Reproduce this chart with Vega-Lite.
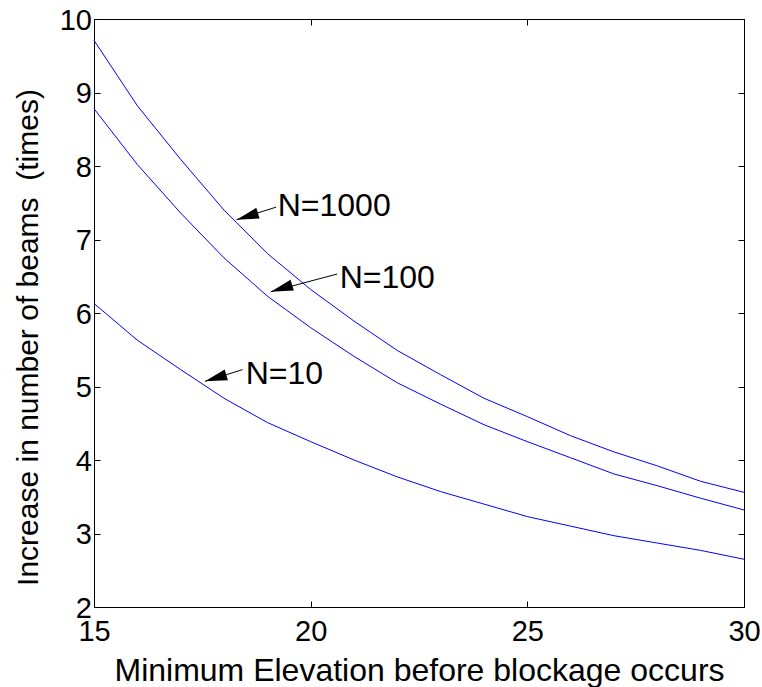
{
  "$schema": "https://vega.github.io/schema/vega-lite/v6.json",
  "width": 650,
  "height": 588,
  "autosize": {"type": "none"},
  "padding": {"left": 94, "top": 19, "right": 18, "bottom": 80},
  "background": "white",
  "datasets": {
    "curves": [
      {"elev": 15, "N": "N=1000", "val": 9.71}, {"elev": 16, "N": "N=1000", "val": 8.82}, {"elev": 17, "N": "N=1000", "val": 8.09}, {"elev": 18, "N": "N=1000", "val": 7.40},
      {"elev": 19, "N": "N=1000", "val": 6.81}, {"elev": 20, "N": "N=1000", "val": 6.32}, {"elev": 21, "N": "N=1000", "val": 5.89}, {"elev": 22, "N": "N=1000", "val": 5.49},
      {"elev": 23, "N": "N=1000", "val": 5.16}, {"elev": 24, "N": "N=1000", "val": 4.84}, {"elev": 25, "N": "N=1000", "val": 4.59}, {"elev": 26, "N": "N=1000", "val": 4.33},
      {"elev": 27, "N": "N=1000", "val": 4.11}, {"elev": 28, "N": "N=1000", "val": 3.92}, {"elev": 29, "N": "N=1000", "val": 3.71}, {"elev": 30, "N": "N=1000", "val": 3.56},
      {"elev": 15, "N": "N=100", "val": 8.78}, {"elev": 16, "N": "N=100", "val": 8.02}, {"elev": 17, "N": "N=100", "val": 7.36}, {"elev": 18, "N": "N=100", "val": 6.75},
      {"elev": 19, "N": "N=100", "val": 6.23}, {"elev": 20, "N": "N=100", "val": 5.80}, {"elev": 21, "N": "N=100", "val": 5.41}, {"elev": 22, "N": "N=100", "val": 5.05},
      {"elev": 23, "N": "N=100", "val": 4.76}, {"elev": 24, "N": "N=100", "val": 4.48}, {"elev": 25, "N": "N=100", "val": 4.25}, {"elev": 26, "N": "N=100", "val": 4.03},
      {"elev": 27, "N": "N=100", "val": 3.81}, {"elev": 28, "N": "N=100", "val": 3.65}, {"elev": 29, "N": "N=100", "val": 3.48}, {"elev": 30, "N": "N=100", "val": 3.32},
      {"elev": 15, "N": "N=10", "val": 6.13}, {"elev": 16, "N": "N=10", "val": 5.63}, {"elev": 17, "N": "N=10", "val": 5.23}, {"elev": 18, "N": "N=10", "val": 4.84},
      {"elev": 19, "N": "N=10", "val": 4.51}, {"elev": 20, "N": "N=10", "val": 4.25}, {"elev": 21, "N": "N=10", "val": 4.00}, {"elev": 22, "N": "N=10", "val": 3.77},
      {"elev": 23, "N": "N=10", "val": 3.57}, {"elev": 24, "N": "N=10", "val": 3.40}, {"elev": 25, "N": "N=10", "val": 3.23}, {"elev": 26, "N": "N=10", "val": 3.10},
      {"elev": 27, "N": "N=10", "val": 2.97}, {"elev": 28, "N": "N=10", "val": 2.87}, {"elev": 29, "N": "N=10", "val": 2.77}, {"elev": 30, "N": "N=10", "val": 2.65}
    ],
    "notes": [
      {"label": "N=1000", "tipx": 18.29, "tipy": 7.27, "tailx": 19.20, "taily": 7.44, "textx": 19.24, "texty": 7.32},
      {"label": "N=100", "tipx": 19.08, "tipy": 6.29, "tailx": 20.61, "taily": 6.53, "textx": 20.67, "texty": 6.34},
      {"label": "N=10", "tipx": 17.56, "tipy": 5.07, "tailx": 18.43, "taily": 5.23, "textx": 18.50, "texty": 5.03}
    ]
  },
  "config": {
    "view": {"stroke": "black", "strokeWidth": 1},
    "font": "Liberation Sans",
    "axis": {
      "grid": false,
      "domainColor": "black",
      "tickColor": "black",
      "labelColor": "black",
      "titleColor": "black",
      "labelFont": "Liberation Sans",
      "titleFont": "Liberation Sans",
      "titleFontWeight": "normal",
      "labelFlush": false,
      "labelOverlap": false
    }
  },
  "layer": [
    {
      "data": {"name": "curves"},
      "mark": {"type": "line", "color": "#0000ff", "strokeWidth": 1},
      "encoding": {
        "x": {
          "field": "elev", "type": "quantitative",
          "scale": {"domain": [15, 30], "nice": false, "zero": false},
          "axis": {
            "orient": "bottom", "values": [15, 20, 25, 30], "tickSize": -6,
            "labelFontSize": 29, "labelBaseline": "alphabetic", "labelPadding": 39,
            "title": "Minimum Elevation before blockage occurs", "titleFontSize": 32,
            "titleBaseline": "alphabetic", "titleY": 73
          }
        },
        "y": {
          "field": "val", "type": "quantitative",
          "scale": {"domain": [2, 10], "nice": false, "zero": false},
          "axis": {
            "orient": "left", "values": [2, 3, 4, 5, 6, 7, 8, 9, 10], "tickSize": -6,
            "labelFontSize": 29, "labelBaseline": "alphabetic", "labelOffset": 10, "labelPadding": 8.5,
            "title": "Increase in number of beams \u00a0(times)", "titleFontSize": 30,
            "titleBaseline": "alphabetic", "titleX": -57, "titleY": 318, "titleAngle": -90
          }
        },
        "detail": {"field": "N"}
      }
    },
    {
      "data": {"name": "notes"},
      "mark": {"type": "rule", "color": "black", "strokeWidth": 1},
      "encoding": {
        "x": {
          "field": "tailx", "type": "quantitative",
          "scale": {"domain": [15, 30], "nice": false, "zero": false},
          "axis": {"orient": "top", "values": [15, 20, 25, 30], "tickSize": -6, "labels": false, "title": null}
        },
        "y": {
          "field": "taily", "type": "quantitative",
          "scale": {"domain": [2, 10], "nice": false, "zero": false},
          "axis": {"orient": "right", "values": [2, 3, 4, 5, 6, 7, 8, 9, 10], "tickSize": -6, "labels": false, "title": null}
        },
        "x2": {"field": "tipx"},
        "y2": {"field": "tipy"}
      }
    },
    {
      "data": {"name": "notes"},
      "mark": {"type": "point", "shape": "M0,0L0.5,2L-0.5,2Z", "filled": true, "color": "black", "opacity": 1, "size": 500, "angle": 253, "strokeWidth": 0},
      "encoding": {
        "x": {"field": "tipx", "type": "quantitative", "scale": {"domain": [15, 30], "nice": false, "zero": false}, "axis": null},
        "y": {"field": "tipy", "type": "quantitative", "scale": {"domain": [2, 10], "nice": false, "zero": false}, "axis": null}
      }
    },
    {
      "data": {"name": "notes"},
      "mark": {"type": "text", "align": "left", "baseline": "alphabetic", "fontSize": 32, "font": "Liberation Sans", "color": "black"},
      "encoding": {
        "x": {"field": "textx", "type": "quantitative", "scale": {"domain": [15, 30], "nice": false, "zero": false}, "axis": null},
        "y": {"field": "texty", "type": "quantitative", "scale": {"domain": [2, 10], "nice": false, "zero": false}, "axis": null},
        "text": {"field": "label"}
      }
    }
  ],
  "resolve": {"axis": {"x": "independent", "y": "independent"}}
}
